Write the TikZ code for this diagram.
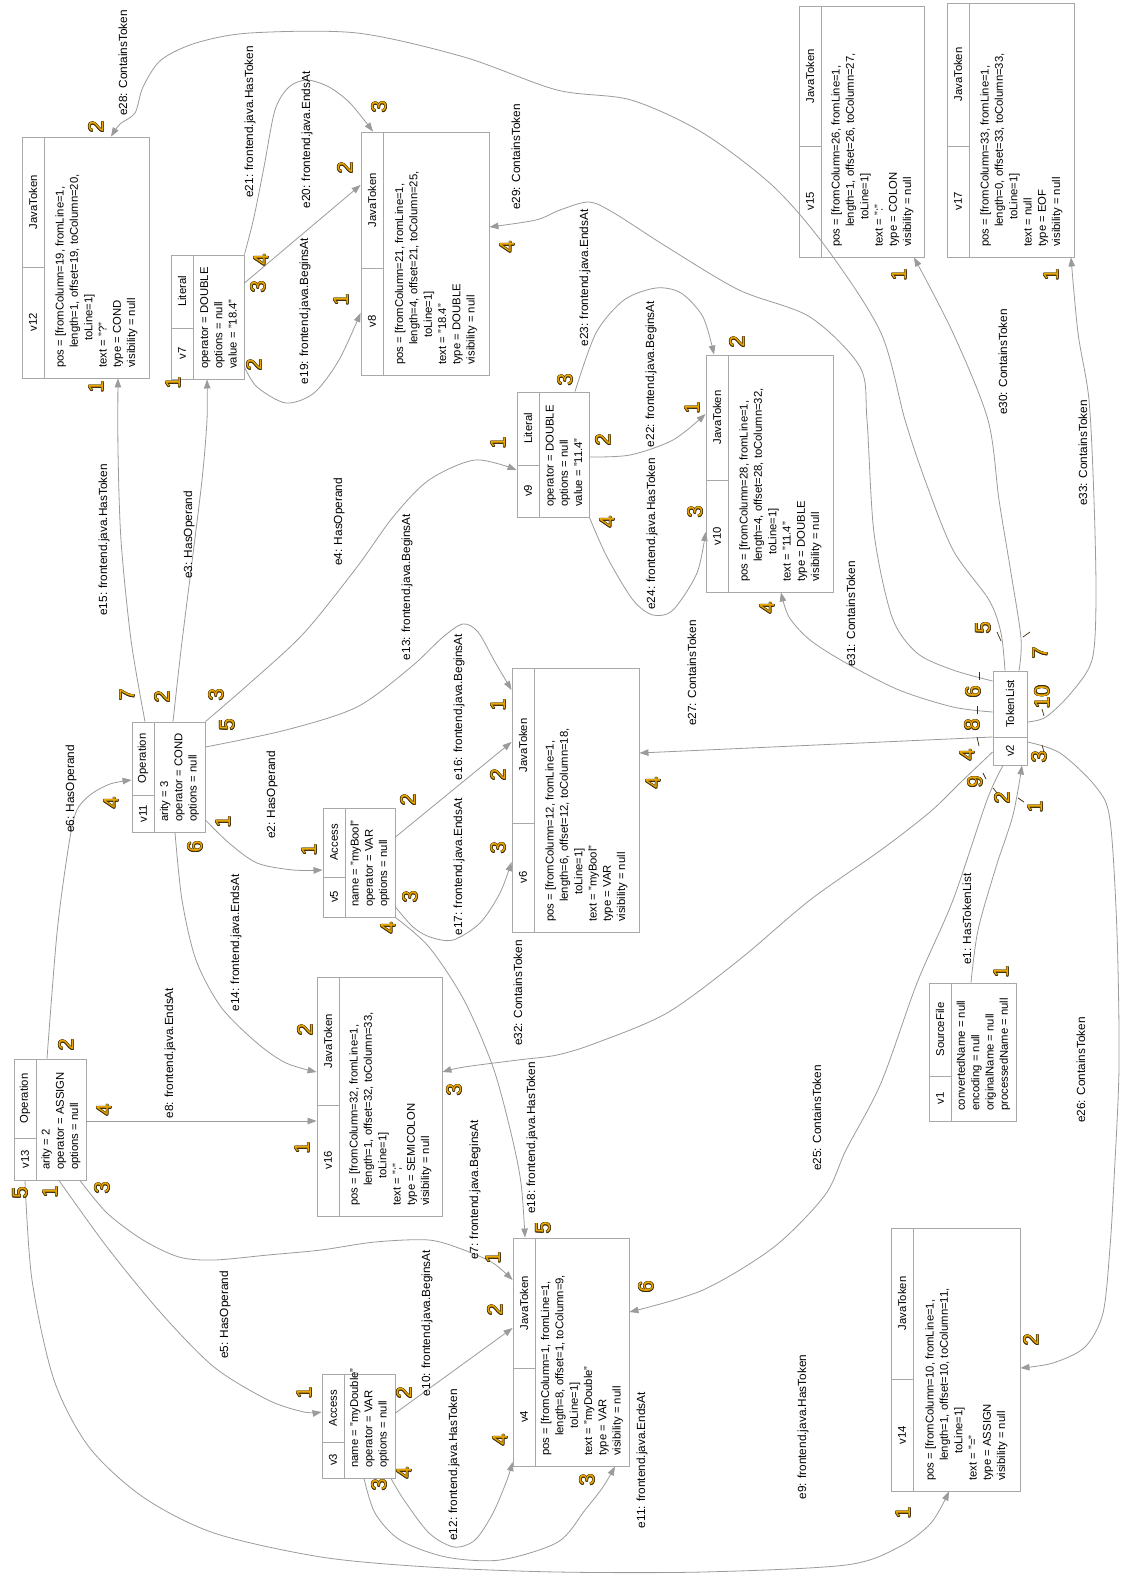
\documentclass[tikz,border=0pt]{standalone}
\usepackage{fontspec}
\setmainfont{Liberation Sans}
\usetikzlibrary{calc,arrows.meta}
\definecolor{frame}{RGB}{168,168,168}
\definecolor{wirecol}{RGB}{155,155,155}
\definecolor{portfill}{RGB}{236,166,0}
\definecolor{portline}{RGB}{60,45,10}
\newcommand\txtfont{\fontsize{11.3}{14.3}\selectfont}
\newcommand\lblfont{\fontsize{11.8}{14}\selectfont}
\newcommand\numfont{\fontsize{21}{21}\selectfont}
\newcommand\indA{\hspace*{20pt}}
\newcommand\indB{\hspace*{27pt}}
\tikzset{
  vbox/.style={draw=frame, line width=0.9pt, inner sep=0pt},
  divider/.style={draw=frame, line width=0.9pt},
  celltext/.style={rotate=90, inner sep=0pt, font=\txtfont},
  bodytext/.style={rotate=90, inner sep=0pt, font=\txtfont, align=left, anchor=west},
  wire/.style={draw=wirecol, line width=0.8pt, -{Triangle[length=9pt,width=6.5pt]}},
  elabel/.style={rotate=90, inner sep=0pt, font=\lblfont},
  portnum/.style={rotate=90, inner sep=0pt, font=\numfont, text=portfill},
  portshade/.style={rotate=90, inner sep=0pt, font=\numfont, text=portline},
  tick/.style={draw=portline, line width=0.7pt},
}
% a vertex box: name, x1, y1, x2, y2, header split, id, type, attributes
\newcommand\vertex[9]{%
  \node[vbox, minimum width={(#4-#2)*1pt}, minimum height={(#5-#3)*1pt}] (#1) at ({(#2+#4)/2},{(#3+#5)/2}) {};
  \draw[divider] ({#2+22},#3) -- ({#2+22},#5);
  \draw[divider] (#2,#6) -- ({#2+22},#6);
  \node[celltext] (#1-id) at ({#2+11},{(#6+#5)/2}) {#7};
  \node[celltext] (#1-type) at ({#2+11},{(#3+#6)/2}) {#8};
  \node[bodytext] (#1-body) at ({(#2+22+#4)/2},{#5-10}) {#9};
}
% an outlined port number
\newcommand\portno[3]{%
  \foreach \a in {0,45,...,315}
    \node[portshade] at ($(#1,#2)+(\a:0.65)$) {#3};
  \node[portnum] (pn-#1-#2) at (#1,#2) {#3};
}
\begin{document}
\begin{tikzpicture}[x=1pt,y=-1pt]
\fill[white] (0,0) rectangle (1120,1574);
\useasboundingbox (0,0) rectangle (1120,1574);

% ---------- vertices ----------
\vertex{v12}{22}{137}{149}{378}{267}{v12}{JavaToken}{pos = [fromColumn=19, fromLine=1,\\\indA length=1, offset=19, toColumn=20,\\\indB toLine=1]\\text = "?"\\type = COND\\visibility = null}
\vertex{v7}{171}{255}{244}{379}{328}{v7}{Literal}{operator = DOUBLE\\options = null\\value = "18.4"}
\vertex{v8}{361}{132}{489}{375}{268}{v8}{JavaToken}{pos = [fromColumn=21, fromLine=1,\\\indA length=4, offset=21, toColumn=25,\\\indB toLine=1]\\text = "18.4"\\type = DOUBLE\\visibility = null}
\vertex{v15}{799}{6}{924}{257}{146}{v15}{JavaToken}{pos = [fromColumn=26, fromLine=1,\\\indA length=1, offset=26, toColumn=27,\\\indB toLine=1]\\text = ":"\\type = COLON\\visibility = null}
\vertex{v17}{947}{3}{1074}{257}{146}{v17}{JavaToken}{pos = [fromColumn=33, fromLine=1,\\\indA length=0, offset=33, toColumn=33,\\\indB toLine=1]\\text = null\\type = EOF\\visibility = null}
\vertex{v9}{517}{392}{589}{517}{465}{v9}{Literal}{operator = DOUBLE\\options = null\\value = "11.4"}
\vertex{v10}{706}{355}{833}{592}{480}{v10}{JavaToken}{pos = [fromColumn=28, fromLine=1,\\\indA length=4, offset=28, toColumn=32,\\\indB toLine=1]\\text = "11.4"\\type = DOUBLE\\visibility = null}
\vertex{v5}{323}{808}{395}{917}{877}{v5}{Access}{name = "myBool"\\operator = VAR\\options = null}
\vertex{v6}{512}{668}{639}{932}{823}{v6}{JavaToken}{pos = [fromColumn=12, fromLine=1,\\\indA length=6, offset=12, toColumn=18,\\\indB toLine=1]\\text = "myBool"\\type = VAR\\visibility = null}
\vertex{v11}{132}{722}{205}{832}{795}{v11}{Operation}{arity = 3\\operator = COND\\options = null}
\vertex{v13}{14}{1059}{86}{1180}{1138}{v13}{Operation}{arity = 2\\operator = ASSIGN\\options = null}
\vertex{v16}{317}{977}{442}{1216}{1105}{v16}{JavaToken}{pos = [fromColumn=32, fromLine=1,\\\indA length=1, offset=32, toColumn=33,\\\indB toLine=1]\\text = ";"\\type = SEMICOLON\\visibility = null}
\vertex{v1}{929}{983}{1016}{1121}{1076}{v1}{SourceFile}{convertedName = null\\encoding = null\\originalName = null\\processedName = null}
\vertex{v3}{322}{1374}{395}{1478}{1442}{v3}{Access}{name = "myDouble"\\operator = VAR\\options = null}
\vertex{v4}{513}{1238}{629}{1466}{1368}{v4}{JavaToken}{pos = [fromColumn=1, fromLine=1,\\\indA length=8, offset=1, toColumn=9,\\\indB toLine=1]\\text = "myDouble"\\type = VAR\\visibility = null}
\vertex{v14}{891}{1228}{1020}{1491}{1379}{v14}{JavaToken}{pos = [fromColumn=10, fromLine=1,\\\indA length=1, offset=10, toColumn=11,\\\indB toLine=1]\\text = "="\\type = ASSIGN\\visibility = null}
% the token list has a header only
\node[vbox, minimum width=34pt, minimum height=94pt] (v2) at (1010,718) {};
\draw[divider] (993,737) -- (1027,737);
\node[celltext] (v2-id) at (1010,751) {v2};
\node[celltext] (v2-type) at (1010,704) {TokenList};

% ---------- connectors ----------
\draw[wire] plot[smooth] coordinates {(971,0 |- v1.north) (978,930) (996,867) (1013,815) (1022,0 |- v2.south)};
\draw[wire] plot[smooth] coordinates {(v11.east |- 0,820) (229,843) (257,863) (293,870) (v5.west |- 0,870)};
\draw[wire] plot[smooth] coordinates {(173,0 |- v11.north) (181,650) (191,570) (202,480) (207,420) (207,0 |- v7.south)};
\draw[wire] plot[smooth] coordinates {(v11.north east) (250,683) (304,633) (357,567) (393,517) (429,480) (475,460) (v9.west |- 0,470)};
\draw[wire] plot[smooth] coordinates {(59,0 |- v13.south) (107,1247) (161,1313) (214,1367) (268,1400) (304,1412) (v3.west |- 0,1412)};
\draw[wire] plot[smooth] coordinates {(47,0 |- v13.north) (57,933) (68,850) (76,812) (90,795) (110,784) (v11.west |- 0,780)};
\draw[wire] plot[smooth] coordinates {(80,0 |- v13.south) (107,1213) (143,1240) (179,1257) (214,1260) (268,1255) (321,1250) (375,1242) (429,1240) (464,1250) (493,1263) (v4.west |- 0,1280)};
\draw[wire] (v13.east |- 0,1121) -- (v16.west |- 0,1121);
\draw[wire] plot[smooth] coordinates {(25,0 |- v13.south) (32,1280) (54,1380) (89,1447) (143,1497) (214,1533) (321,1557) (429,1567) (557,1572) (703,1572) (846,1565) (899,1547) (931,1523) (949,0 |- v14.south)};
\draw[wire] (v3.east |- 0,1413) -- (v4.west |- 0,1328);
\draw[wire] plot[smooth] coordinates {(364,0 |- v3.south) (375,1513) (400,1540) (446,1557) (500,1560) (558,1542) (585,1510) (603,1487) (615,0 |- v4.south)};
\draw[wire] plot[smooth] coordinates {(391,0 |- v3.south) (404,1500) (429,1533) (454,1547) (475,1540) (493,1513) (507,1480) (v4.west |- 0,1462)};
\draw[wire] plot[smooth] coordinates {(v11.east |- 0,747) (286,730) (357,707) (411,667) (443,637) (463,624) (478,632) (495,662) (v6.west |- 0,690)};
\draw[wire] plot[smooth] coordinates {(175,0 |- v11.south) (182,900) (196,960) (221,1007) (257,1043) (286,1063) (v16.west |- 0,1072)};
\draw[wire] plot[smooth] coordinates {(145,0 |- v11.north) (131,640) (121,540) (118,450) (118,0 |- v12.south)};
\draw[wire] (v5.east |- 0,837) -- (v6.west |- 0,742);
\draw[wire] plot[smooth] coordinates {(v5.east |- 0,907) (413,927) (430,937) (453,940) (480,923) (500,893) (v6.west |- 0,862)};
\draw[wire] plot[smooth] coordinates {(v5.south east) (429,947) (464,1000) (493,1067) (511,1133) (521,1183) (525,0 |- v4.north)};
\draw[wire] plot[smooth] coordinates {(v7.east |- 0,367) (257,387) (286,403) (314,393) (339,360) (v8.west |- 0,313)};
\draw[wire] (v7.east |- 0,283) -- (v8.west |- 0,185);
\draw[wire] plot[smooth] coordinates {(v7.north east) (254,217) (264,167) (275,110) (289,87) (307,80) (329,87) (350,103) (373,0 |- v8.north)};
\draw[wire] plot[smooth] coordinates {(v9.east |- 0,457) (630,455) (673,440) (v10.west |- 0,414)};
\draw[wire] plot[smooth] coordinates {(575,0 |- v9.north) (596,333) (624,300) (656,288) (681,293) (703,317) (714,0 |- v10.north)};
\draw[wire] plot[smooth] coordinates {(v9.south east) (607,557) (633,600) (653,615) (673,610) (697,573) (v10.west |- 0,532)};
\draw[wire] plot[smooth] coordinates {(1003,0 |- v2.south) (987,800) (953,900) (917,983) (881,1083) (846,1150) (825,1195) (774,1247) (703,1290) (v4.east |- 0,1312)};
\draw[wire] plot[smooth] coordinates {(v2.east |- 0,742) (1060,753) (1096,787) (1110,820) (1117,933) (1119,1067) (1114,1180) (1110,1247) (1103,1313) (1085,1347) (1053,1363) (v14.east |- 0,1368)};
\draw[wire] (v2.west |- 0,737) -- (v6.east |- 0,753);
\draw[wire] plot[smooth] coordinates {(1005,0 |- v2.north) (1001,633) (989,600) (953,550) (925,480) (905,420) (881,333) (828,250) (774,187) (703,133) (631,100) (557,90) (464,57) (357,33) (250,33) (196,43) (161,60) (143,87) (135,113) (120,124) (111,0 |- v12.north)};
\draw[wire] plot[smooth] coordinates {(v2.west |- 0,681) (953,670) (917,653) (892,617) (874,533) (867,420) (860,367) (810,317) (739,290) (667,247) (614,213) (589,202) (560,210) (536,220) (v8.east |- 0,227)};
\draw[wire] plot[smooth] coordinates {(1019,0 |- v2.north) (1021,638) (1010,567) (999,500) (988,420) (953,333) (914,0 |- v15.south)};
\draw[wire] plot[smooth] coordinates {(v2.west |- 0,712) (953,707) (899,690) (846,663) (810,640) (789,617) (781,0 |- v10.south)};
\draw[wire] plot[smooth] coordinates {(v2.west |- 0,752) (960,783) (930,812) (881,850) (810,900) (739,960) (667,1013) (596,1043) (557,1055) (518,1060) (464,1067) (v16.east |- 0,1072)};
\draw[wire] plot[smooth] coordinates {(v2.east |- 0,722) (1046,717) (1071,693) (1092,660) (1096,600) (1094,500) (1089,400) (1078,333) (1071,0 |- v17.south)};

% ---------- connector labels ----------
\node[elabel] (l1) at (967,919) {e1: HasTokenList};
\node[elabel] (l2) at (272,795) {e2: HasOperand};
\node[elabel] (l3) at (189,535) {e3: HasOperand};
\node[elabel] (l4) at (339,522) {e4: HasOperand};
\node[elabel] (l5) at (225,1315) {e5: HasOperand};
\node[elabel] (l6) at (71,789) {e6: HasOperand};
\node[elabel] (l7) at (475,1190) {e7: frontend.java.BeginsAt};
\node[elabel] (l8) at (170,1053) {e8: frontend.java.EndsAt};
\node[elabel] (l9) at (803,1427) {e9: frontend.java.HasToken};
\node[elabel] (l10) at (427,1323) {e10: frontend.java.BeginsAt};
\node[elabel] (l11) at (642,1460) {e11: frontend.java.EndsAt};
\node[elabel] (l12) at (454,1465) {e12: frontend.java.HasToken};
\node[elabel] (l13) at (407,587) {e13: frontend.java.BeginsAt};
\node[elabel] (l14) at (236,943) {e14: frontend.java.EndsAt};
\node[elabel] (l15) at (104,540) {e15: frontend.java.HasToken};
\node[elabel] (l16) at (459,707) {e16: frontend.java.BeginsAt};
\node[elabel] (l17) at (459,867) {e17: frontend.java.EndsAt};
\node[elabel] (l18) at (532,1138) {e18: frontend.java.HasToken};
\node[elabel] (l19) at (305,311) {e19: frontend.java.BeginsAt};
\node[elabel] (l20) at (307,140) {e20: frontend.java.EndsAt};
\node[elabel] (l21) at (250,122) {e21: frontend.java.HasToken};
\node[elabel] (l22) at (651,374) {e22: frontend.java.BeginsAt};
\node[elabel] (l23) at (585,278) {e23: frontend.java.EndsAt};
\node[elabel] (l24) at (652,534) {e24: frontend.java.HasToken};
\node[elabel] (l25) at (817,1118) {e25: ContainsToken};
\node[elabel] (l26) at (1081,1070) {e26: ContainsToken};
\node[elabel] (l27) at (692,673) {e27: ContainsToken};
\node[elabel] (l28) at (123,63) {e28: ContainsToken};
\node[elabel] (l29) at (516,157) {e29: ContainsToken};
\node[elabel] (l30) at (1003,362) {e30: ContainsToken};
\node[elabel] (l31) at (851,614) {e31: ContainsToken};
\node[elabel] (l32) at (518,993) {e32: ContainsToken};
\node[elabel] (l33) at (1083,453) {e33: ContainsToken};

% ---------- port numbers ----------
\portno{96}{127}{2} \portno{96}{387}{1}
\portno{173}{383}{1} \portno{254}{365}{2} \portno{258}{287}{3} \portno{261}{260}{4}
\portno{379}{107}{3} \portno{345}{168}{2} \portno{341}{300}{1} \portno{507}{247}{4}
\portno{127}{695}{7} \portno{162}{697}{2} \portno{216}{695}{3} \portno{227}{725}{5}
\portno{111}{803}{4} \portno{223}{822}{1} \portno{195}{847}{6}
\portno{498}{443}{1} \portno{565}{380}{3} \portno{603}{440}{2} \portno{607}{522}{4}
\portno{737}{342}{2} \portno{692}{408}{1} \portno{695}{512}{3} \portno{767}{608}{4}
\portno{498}{705}{1} \portno{498}{775}{2} \portno{498}{848}{3} \portno{653}{783}{4}
\portno{309}{850}{1} \portno{408}{800}{2} \portno{410}{897}{3} \portno{388}{928}{4}
\portno{305}{1030}{2} \portno{302}{1148}{1} \portno{454}{1090}{3}
\portno{20}{1193}{5} \portno{50}{1192}{1} \portno{102}{1188}{3} \portno{66}{1045}{2} \portno{104}{1110}{4}
\portno{304}{1393}{1} \portno{404}{1393}{2} \portno{404}{1473}{4} \portno{379}{1485}{3}
\portno{543}{1228}{5} \portno{493}{1258}{1} \portno{495}{1310}{2} \portno{500}{1440}{4} \portno{587}{1480}{3} \portno{646}{1287}{6}
\portno{903}{1513}{1} \portno{1031}{1340}{2}
\portno{1001}{972}{1}
\portno{899}{275}{1} \portno{1051}{275}{1}
\portno{983}{628}{5} \portno{1040}{653}{7} \portno{973}{692}{6} \portno{972}{725}{8} \portno{967}{755}{4}
\portno{975}{782}{9} \portno{1002}{798}{2} \portno{1035}{807}{1} \portno{1039}{757}{3} \portno{1042}{697}{10}
% leader ticks of the token list ports
\draw[tick] (997,632) -- (1001,641);
\draw[tick] (1023,637) -- (1030,632);
\draw[tick] (979,672) -- (979,680);
\draw[tick] (977,706) -- (977,714);
\draw[tick] (977,737) -- (979,746);
\draw[tick] (983,773) -- (986,779);
\draw[tick] (993,788) -- (997,793);
\draw[tick] (1018,798) -- (1024,802);
\draw[tick] (1042,745) -- (1044,752);
\draw[tick] (1042,709) -- (1044,716);
\end{tikzpicture}
\end{document}
